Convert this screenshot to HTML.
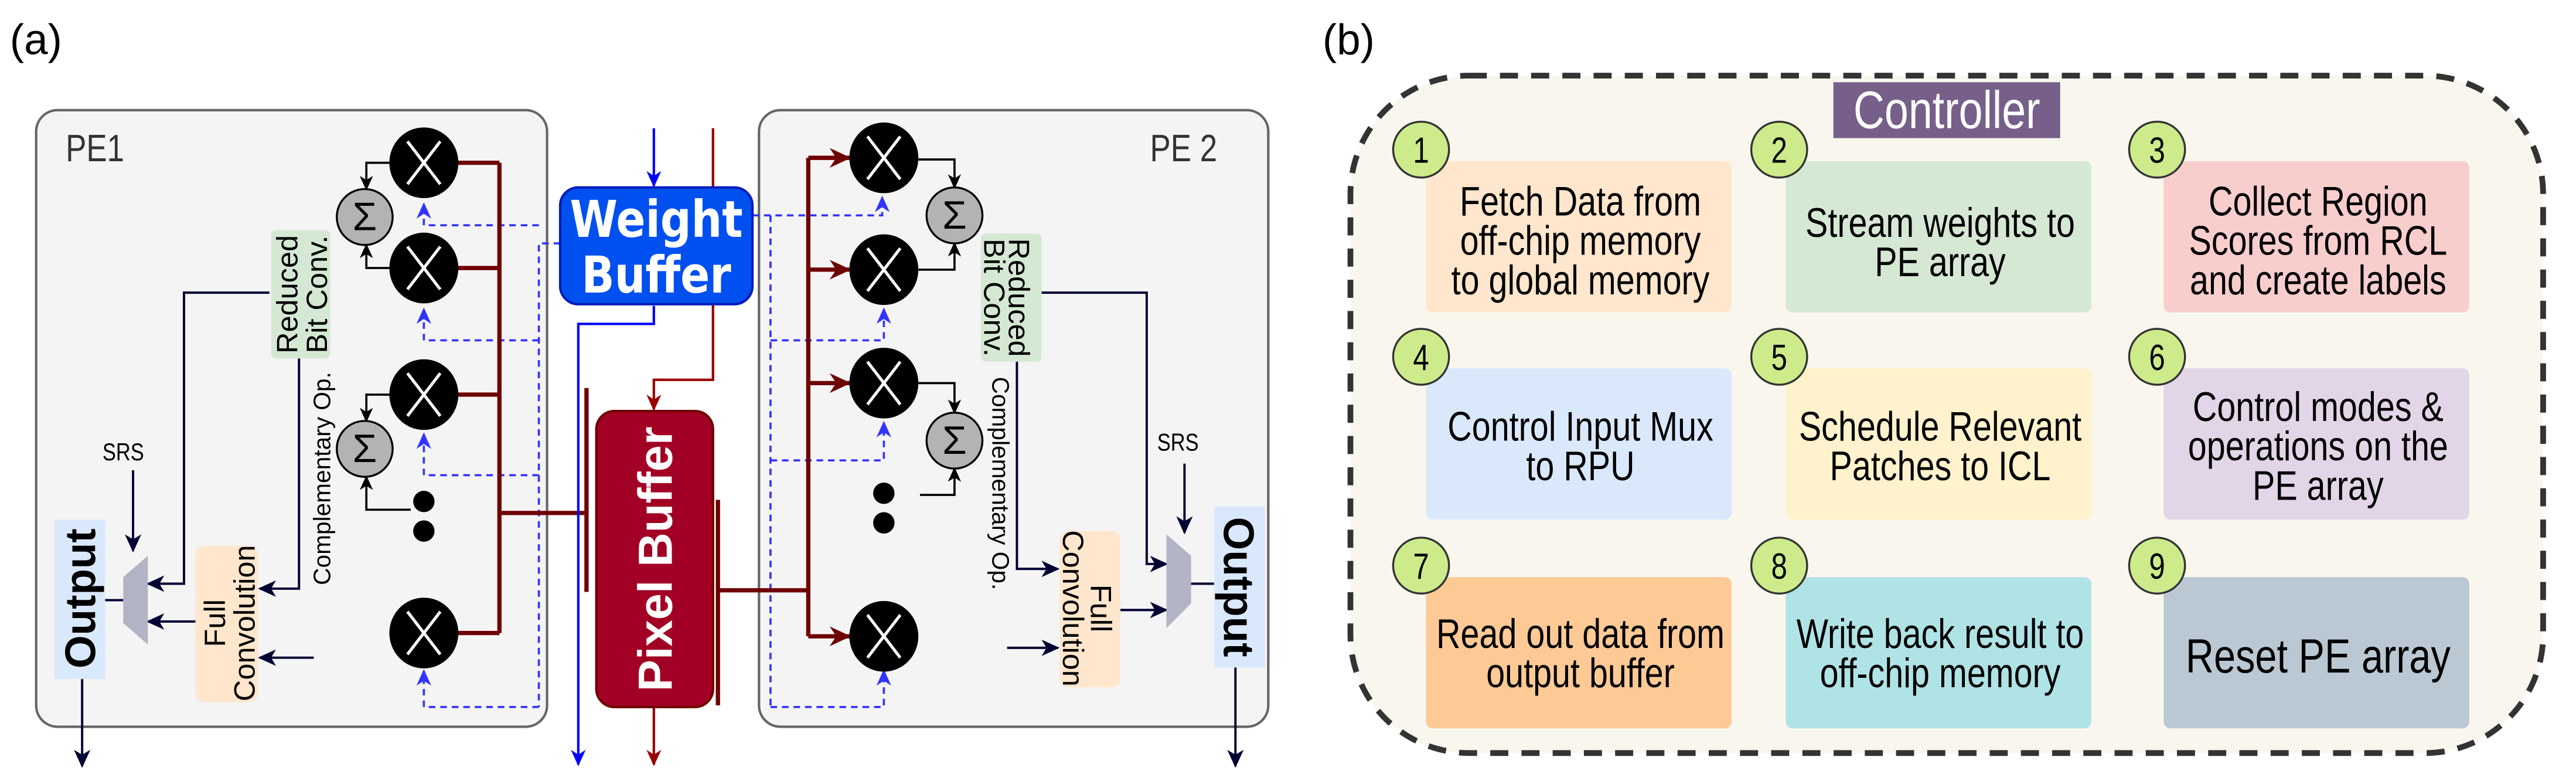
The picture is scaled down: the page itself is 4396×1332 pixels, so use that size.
<!DOCTYPE html>
<html><head><meta charset="utf-8"><style>
html,body{margin:0;padding:0;background:#fff;}
svg{display:block;}
.t{font-family:"Liberation Sans",sans-serif;}
</style></head><body>
<svg width="4396" height="1332" viewBox="0 0 1568 475" preserveAspectRatio="none" xmlns="http://www.w3.org/2000/svg">
<defs>
<marker id="ar" markerUnits="userSpaceOnUse" markerWidth="14" markerHeight="14" refX="12" refY="7" orient="auto"><path d="M0,1 L13,7 L0,13 L4,7 Z" fill="#6f0000"/></marker>
<marker id="ar2" markerUnits="userSpaceOnUse" markerWidth="10" markerHeight="10" refX="9" refY="5" orient="auto"><path d="M0,0.5 L10,5 L0,9.5 L3,5 Z" fill="#990000"/></marker>
<marker id="ab" markerUnits="userSpaceOnUse" markerWidth="10" markerHeight="10" refX="9" refY="5" orient="auto"><path d="M0,0.5 L10,5 L0,9.5 L3,5 Z" fill="#0000ff"/></marker>
<marker id="abd" markerUnits="userSpaceOnUse" markerWidth="10" markerHeight="10" refX="9" refY="5" orient="auto"><path d="M0,0.5 L10,5 L0,9.5 L3,5 Z" fill="#3333ff"/></marker>
<marker id="an" markerUnits="userSpaceOnUse" markerWidth="11" markerHeight="11" refX="10" refY="5.5" orient="auto"><path d="M0,0.5 L11,5.5 L0,10.5 L3,5.5 Z" fill="#000033"/></marker>
<marker id="ak" markerUnits="userSpaceOnUse" markerWidth="9" markerHeight="9" refX="8" refY="4.5" orient="auto"><path d="M0,0.5 L9,4.5 L0,8.5 L2.5,4.5 Z" fill="#000"/></marker>
<g id="m"><ellipse cx="0" cy="0" rx="21" ry="21.5" fill="#000"/><path d="M-10,-13 L10,13 M10,-13 L-10,13" stroke="#fff" stroke-width="1.8"/></g>
</defs>

<text x="6" y="33" class="t" font-size="26">(a)</text>
<rect x="22" y="67" width="311" height="375" rx="13" fill="#f4f4f4" stroke="#666" stroke-width="1.5"/>
<rect x="462" y="67" width="310" height="375" rx="13" fill="#f4f4f4" stroke="#666" stroke-width="1.5"/>
<text transform="translate(40,98) scale(0.82,1)" class="t" font-size="23" fill="#333">PE1</text>
<text transform="translate(700,98) scale(0.82,1)" class="t" font-size="23" fill="#333">PE 2</text>

<g fill="none" stroke="#3333ff" stroke-width="1.3" stroke-dasharray="4,3">
<path d="M341,148 H328 V430"/>
<path d="M328,137 H258 V124" marker-end="url(#abd)"/>
<path d="M328,207 H258 V188" marker-end="url(#abd)"/>
<path d="M328,289 H258 V264" marker-end="url(#abd)"/>
<path d="M328,430 H258 V408" marker-end="url(#abd)"/>
<path d="M458,131 H537 V120" marker-end="url(#abd)"/>
<path d="M469,131 V430"/>
<path d="M469,207 H538 V188" marker-end="url(#abd)"/>
<path d="M469,280 H538 V257" marker-end="url(#abd)"/>
<path d="M469,430 H538 V408" marker-end="url(#abd)"/>
</g>

<g fill="none" stroke="#6f0000" stroke-width="2.6">
<path d="M304,99 V385"/>
<path d="M304,99 H240" marker-end="url(#ar)"/>
<path d="M304,163 H240" marker-end="url(#ar)"/>
<path d="M304,240 H240" marker-end="url(#ar)"/>
<path d="M304,385 H240" marker-end="url(#ar)"/>
<path d="M304,312 H357"/>
<path d="M357,236 V360"/>
<path d="M492,96 V387"/>
<path d="M492,96 H517" marker-end="url(#ar)"/>
<path d="M492,164 H517" marker-end="url(#ar)"/>
<path d="M492,233 H517" marker-end="url(#ar)"/>
<path d="M492,387 H517" marker-end="url(#ar)"/>
<path d="M437,359 H492"/>
<path d="M437,304 V429"/>
</g>

<path d="M398,78 V113" stroke="#0000ff" stroke-width="1.5" fill="none" marker-end="url(#ab)"/>
<path d="M398,186 V197 H352 V465" stroke="#0000ff" stroke-width="1.5" fill="none" marker-end="url(#ab)"/>
<path d="M434,78 V231 H398 V249" stroke="#990000" stroke-width="1.5" fill="none" marker-end="url(#ar2)"/>
<path d="M398,430 V465" stroke="#990000" stroke-width="1.5" fill="none" marker-end="url(#ar2)"/>

<rect x="341" y="114" width="117" height="71" rx="11" fill="#0050ef" stroke="#001dbc" stroke-width="1.5"/>
<text transform="translate(399.5,144) scale(0.85,1)" text-anchor="middle" font-family="DejaVu Sans" font-weight="bold" font-size="31" fill="#fff">Weight</text>
<text transform="translate(399.5,178) scale(0.85,1)" text-anchor="middle" font-family="DejaVu Sans" font-weight="bold" font-size="31" fill="#fff">Buffer</text>
<rect x="363" y="250" width="71" height="180" rx="11" fill="#a20025" stroke="#6f0000" stroke-width="1.5"/>
<text transform="translate(409,340) rotate(-90)" text-anchor="middle" class="t" font-weight="bold" font-size="29" fill="#fff">Pixel Buffer</text>

<use href="#m" x="258" y="99"/>
<use href="#m" x="258" y="163"/>
<use href="#m" x="258" y="240"/>
<use href="#m" x="258" y="385"/>
<use href="#m" x="538" y="96"/>
<use href="#m" x="538" y="164"/>
<use href="#m" x="538" y="233"/>
<use href="#m" x="538" y="387"/>
<g fill="#000"><circle cx="258" cy="305" r="6.5"/><circle cx="258" cy="323" r="6.5"/><circle cx="538" cy="300" r="6.5"/><circle cx="538" cy="318" r="6.5"/></g>

<g stroke="#000" stroke-width="1.3" fill="none">
<path d="M237,99 H223 V115" marker-end="url(#ak)"/>
<path d="M237,163 H223 V149" marker-end="url(#ak)"/>
<path d="M237,240 H223 V256" marker-end="url(#ak)"/>
<path d="M250,310 H223 V290" marker-end="url(#ak)"/>
<path d="M559,97 H581 V114" marker-end="url(#ak)"/>
<path d="M559,164 H581 V148" marker-end="url(#ak)"/>
<path d="M559,233 H581 V251" marker-end="url(#ak)"/>
<path d="M560,301 H581 V285" marker-end="url(#ak)"/>
</g>
<g fill="#b3b3b3" stroke="#000" stroke-width="1.2">
<ellipse cx="222" cy="132" rx="17" ry="17"/><ellipse cx="222" cy="273" rx="17" ry="17"/>
<ellipse cx="581" cy="131" rx="17" ry="17"/><ellipse cx="581" cy="268" rx="17" ry="17"/>
</g>
<g class="t" font-size="24" text-anchor="middle">
<text x="222" y="140">Σ</text><text x="222" y="281">Σ</text><text x="581" y="139">Σ</text><text x="581" y="276">Σ</text>
</g>

<g stroke="#000033" stroke-width="1.4" fill="none">
<path d="M164,178 H112 V355 H90" marker-end="url(#an)"/>
<path d="M182,218 V358 H158" marker-end="url(#an)"/>
<path d="M119,378 H90" marker-end="url(#an)"/>
<path d="M191,400 H158" marker-end="url(#an)"/>
<path d="M81,286 V335" marker-end="url(#an)"/>
<path d="M75,365 H64"/>
<path d="M50,413 V466" marker-end="url(#an)"/>
<path d="M634,178 H698 V343 H710" marker-end="url(#an)"/>
<path d="M619,220 V346 H644" marker-end="url(#an)"/>
<path d="M682,371 H710" marker-end="url(#an)"/>
<path d="M613,394 H644" marker-end="url(#an)"/>
<path d="M721,282 V324" marker-end="url(#an)"/>
<path d="M725,355 H739"/>
<path d="M752,406 V466" marker-end="url(#an)"/>
</g>
<polygon points="75,351 90,338 90,392 75,379" fill="#b3b3c6"/>
<polygon points="710,325 725,338 725,367 710,382" fill="#b3b3c6"/>

<rect x="165" y="140" width="36" height="78" rx="3" fill="#d5e8d4"/>
<text transform="translate(181,179) rotate(-90)" text-anchor="middle" class="t" font-size="18">Reduced</text>
<text transform="translate(199,179) rotate(-90)" text-anchor="middle" class="t" font-size="18">Bit Conv.</text>
<rect x="119" y="332" width="38" height="95" rx="5" fill="#ffe6cc"/>
<text transform="translate(137,379) rotate(-90)" text-anchor="middle" class="t" font-size="18">Full</text>
<text transform="translate(155,379) rotate(-90)" text-anchor="middle" class="t" font-size="18">Convolution</text>
<text transform="translate(201,291) rotate(-90)" text-anchor="middle" class="t" font-size="14.5">Complementary Op.</text>
<text transform="translate(75,280) scale(0.82,1)" text-anchor="middle" class="t" font-size="15">SRS</text>
<rect x="33" y="316" width="31" height="97" fill="#dae8fc"/>
<text transform="translate(58,364) rotate(-90)" text-anchor="middle" class="t" font-weight="bold" font-size="26">Output</text>

<rect x="597" y="142" width="37" height="78" rx="3" fill="#d5e8d4"/>
<text transform="translate(614,181) rotate(90)" text-anchor="middle" class="t" font-size="18">Reduced</text>
<text transform="translate(599,181) rotate(90)" text-anchor="middle" class="t" font-size="18">Bit Conv.</text>
<rect x="645" y="323" width="37" height="95" rx="5" fill="#ffe6cc"/>
<text transform="translate(664,370) rotate(90)" text-anchor="middle" class="t" font-size="18">Full</text>
<text transform="translate(647,370) rotate(90)" text-anchor="middle" class="t" font-size="18">Convolution</text>
<text transform="translate(604,294) rotate(90)" text-anchor="middle" class="t" font-size="14.5">Complementary Op.</text>
<text transform="translate(717,274) scale(0.82,1)" text-anchor="middle" class="t" font-size="15">SRS</text>
<rect x="739" y="308" width="31" height="98" fill="#dae8fc"/>
<text transform="translate(745,357) rotate(90)" text-anchor="middle" class="t" font-weight="bold" font-size="26">Output</text>

<text x="805" y="33" class="t" font-size="26">(b)</text>
<rect x="822" y="46" width="726" height="412" rx="72" fill="#f9f6ee" stroke="#333" stroke-width="3.5" stroke-dasharray="11,8"/>
<rect x="1116" y="50" width="138" height="34" fill="#76608a"/>
<text transform="translate(1185,78) scale(0.82,1)" text-anchor="middle" class="t" font-size="32" fill="#fff">Controller</text>

<rect x="868" y="98" width="186" height="92" rx="4" fill="#ffe6cc"/>
<rect x="1087" y="98" width="186" height="92" rx="4" fill="#d5e8d4"/>
<rect x="1317" y="98" width="186" height="92" rx="4" fill="#f8cecc"/>
<rect x="868" y="224" width="186" height="92" rx="4" fill="#dae8fc"/>
<rect x="1087" y="224" width="186" height="92" rx="4" fill="#fff2cc"/>
<rect x="1317" y="224" width="186" height="92" rx="4" fill="#e1d5e7"/>
<rect x="868" y="351" width="186" height="92" rx="4" fill="#fdca96"/>
<rect x="1087" y="351" width="186" height="92" rx="4" fill="#b0e3e6"/>
<rect x="1317" y="351" width="186" height="92" rx="4" fill="#bac8d3"/>

<g class="t" font-size="25" text-anchor="middle">
<text transform="translate(962,131) scale(0.82,1)">Fetch Data from</text>
<text transform="translate(962,155) scale(0.82,1)">off-chip memory</text>
<text transform="translate(962,179) scale(0.82,1)">to global memory</text>
<text transform="translate(1181,144) scale(0.82,1)">Stream weights to</text>
<text transform="translate(1181,168) scale(0.82,1)">PE array</text>
<text transform="translate(1411,131) scale(0.82,1)">Collect Region</text>
<text transform="translate(1411,155) scale(0.82,1)">Scores from RCL</text>
<text transform="translate(1411,179) scale(0.82,1)">and create labels</text>
<text transform="translate(962,268) scale(0.82,1)">Control Input Mux</text>
<text transform="translate(962,292) scale(0.82,1)">to RPU</text>
<text transform="translate(1181,268) scale(0.82,1)">Schedule Relevant</text>
<text transform="translate(1181,292) scale(0.82,1)">Patches to ICL</text>
<text transform="translate(1411,256) scale(0.82,1)">Control modes &amp;</text>
<text transform="translate(1411,280) scale(0.82,1)">operations on the</text>
<text transform="translate(1411,304) scale(0.82,1)">PE array</text>
<text transform="translate(962,394) scale(0.82,1)">Read out data from</text>
<text transform="translate(962,418) scale(0.82,1)">output buffer</text>
<text transform="translate(1181,394) scale(0.82,1)">Write back result to</text>
<text transform="translate(1181,418) scale(0.82,1)">off-chip memory</text>
<text transform="translate(1411,409) scale(0.82,1)" font-size="29">Reset PE array</text>
</g>

<g fill="#cdeb8b" stroke="#333" stroke-width="1.2">
<circle cx="865" cy="91" r="17"/><circle cx="1083" cy="91" r="17"/><circle cx="1313" cy="91" r="17"/>
<circle cx="865" cy="217" r="17"/><circle cx="1083" cy="217" r="17"/><circle cx="1313" cy="217" r="17"/>
<circle cx="865" cy="344" r="17"/><circle cx="1083" cy="344" r="17"/><circle cx="1313" cy="344" r="17"/>
</g>
<g class="t" font-size="22" text-anchor="middle">
<text transform="translate(865,99) scale(0.8,1)">1</text><text transform="translate(1083,99) scale(0.8,1)">2</text><text transform="translate(1313,99) scale(0.8,1)">3</text>
<text transform="translate(865,225) scale(0.8,1)">4</text><text transform="translate(1083,225) scale(0.8,1)">5</text><text transform="translate(1313,225) scale(0.8,1)">6</text>
<text transform="translate(865,352) scale(0.8,1)">7</text><text transform="translate(1083,352) scale(0.8,1)">8</text><text transform="translate(1313,352) scale(0.8,1)">9</text>
</g>
</svg>
</body></html>
